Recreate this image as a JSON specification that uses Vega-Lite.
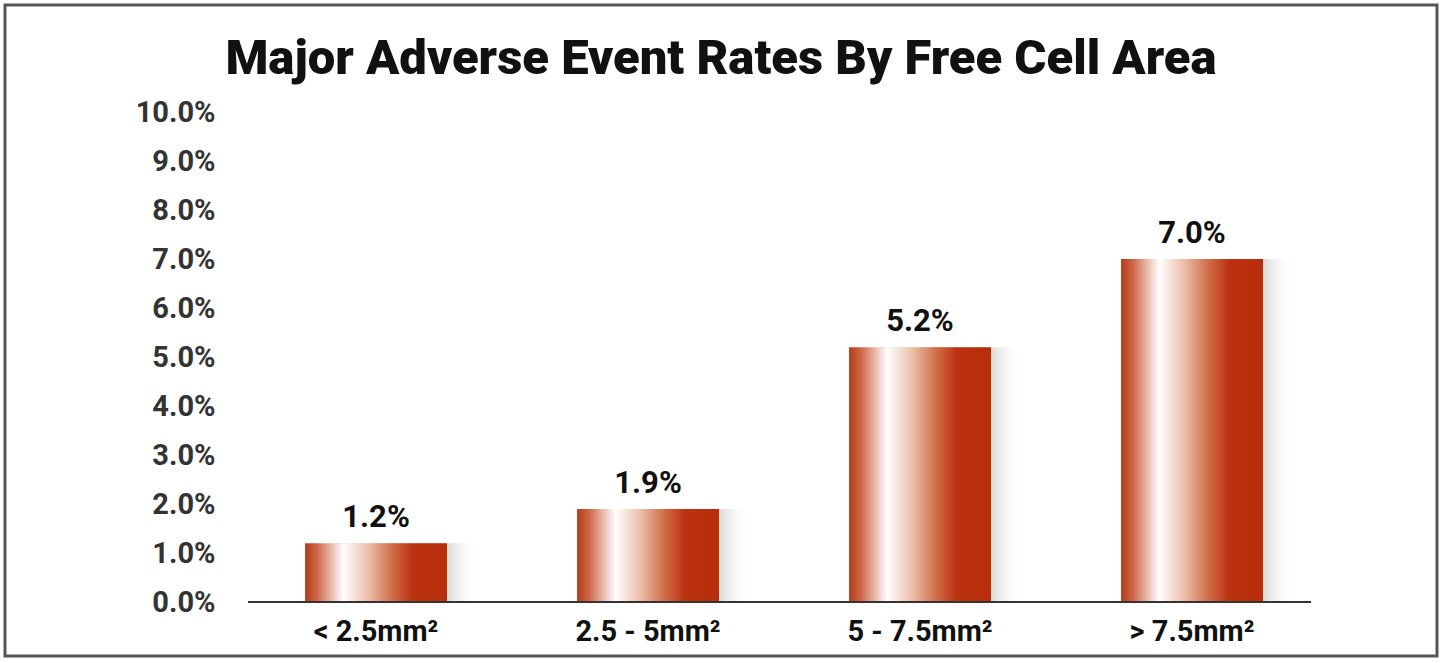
{
  "$schema": "https://vega.github.io/schema/vega-lite/v6.json",
  "width": 1432,
  "height": 651,
  "autosize": {"type": "none"},
  "padding": {"left": 5, "top": 5, "right": 4, "bottom": 7},
  "background": "#ffffff",
  "config": {
    "view": {"stroke": "#555555", "strokeWidth": 3},
    "font": "Roboto, sans-serif"
  },
  "title": {
    "text": "Major Adverse Event Rates By Free Cell Area",
    "font": "Roboto, sans-serif",
    "fontSize": 49,
    "fontWeight": 900,
    "color": "#111111",
    "anchor": "middle",
    "baseline": "alphabetic",
    "offset": -118
  },
  "data": {
    "values": [
      {"area": "< 2.5mm²", "rate": 0.012},
      {"area": "2.5 - 5mm²", "rate": 0.019},
      {"area": "5 - 7.5mm²", "rate": 0.052},
      {"area": "> 7.5mm²", "rate": 0.070}
    ]
  },
  "encoding": {
    "x": {
      "field": "area",
      "type": "nominal",
      "sort": null,
      "scale": {"paddingInner": 0.478, "paddingOuter": 0.8714, "align": 0.633},
      "axis": {
        "title": null,
        "orient": "bottom",
        "offset": -54,
        "domain": false,
        "ticks": false,
        "labelAngle": 0,
        "labelPadding": 15,
        "labelFontSize": 29,
        "labelFontWeight": "bold",
        "labelColor": "#111111",
        "labelBaseline": "top"
      }
    },
    "y": {
      "field": "rate",
      "type": "quantitative",
      "scale": {"domain": [-0.01102, 0.12184], "nice": false, "zero": false},
      "axis": {
        "title": null,
        "orient": "left",
        "offset": -210,
        "domain": false,
        "ticks": false,
        "grid": false,
        "labelPadding": 0,
        "values": [0, 0.01, 0.02, 0.03, 0.04, 0.05, 0.06, 0.07, 0.08, 0.09, 0.1],
        "format": ".1%",
        "labelFontSize": 29,
        "labelFontWeight": "bold",
        "labelColor": "#333333"
      }
    }
  },
  "layer": [
    {
      "mark": {
        "type": "bar",
        "xOffset": 30,
        "color": {
          "gradient": "linear",
          "x1": 0, "y1": 0, "x2": 1, "y2": 0,
          "stops": [
            {"offset": 0, "color": "#d6d6d6"},
            {"offset": 0.78, "color": "#d6d6d6"},
            {"offset": 1, "color": "rgba(255,255,255,0)"}
          ]
        }
      }
    },
    {
      "mark": {
        "type": "bar",
        "color": {
          "gradient": "linear",
          "x1": 0, "y1": 0, "x2": 1, "y2": 0,
          "stops": [
            {"offset": 0, "color": "#b53a18"},
            {"offset": 0.08, "color": "#cc6443"},
            {"offset": 0.27, "color": "#ffffff"},
            {"offset": 0.45, "color": "#ebbca6"},
            {"offset": 0.62, "color": "#d06b46"},
            {"offset": 0.76, "color": "#bb3210"},
            {"offset": 1, "color": "#b82d0b"}
          ]
        }
      }
    },
    {
      "mark": {
        "type": "text",
        "baseline": "alphabetic",
        "dy": -16,
        "fontSize": 31,
        "fontWeight": "bold",
        "color": "#111111"
      },
      "encoding": {
        "text": {"field": "rate", "type": "quantitative", "format": ".1%"}
      }
    },
    {
      "mark": {"type": "rule", "color": "#333333", "strokeWidth": 2},
      "encoding": {
        "x": {"datum": "< 2.5mm²", "bandPosition": -0.4},
        "x2": {"datum": "> 7.5mm²", "bandPosition": 1.338},
        "y": {"datum": 0}
      }
    }
  ]
}
